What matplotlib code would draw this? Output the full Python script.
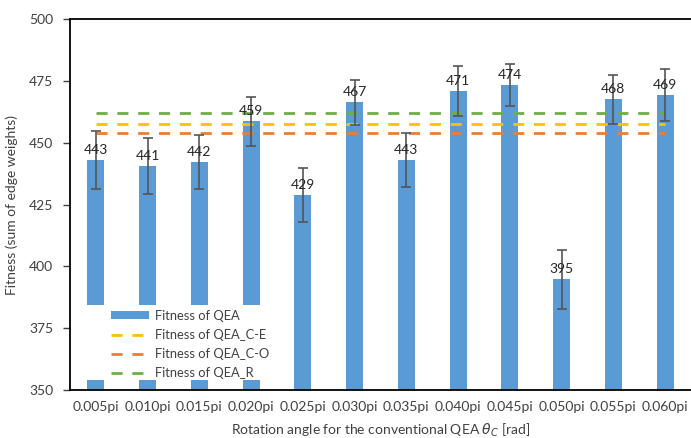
import numpy as np
import matplotlib
matplotlib.use('Agg')
import matplotlib.pyplot as plt
from matplotlib.patches import Rectangle

plt.rcParams['font.family'] = ['Lato', 'DejaVu Sans']

# Data
angles = ['0.005pi', '0.010pi', '0.015pi', '0.020pi', '0.025pi', '0.030pi',
          '0.035pi', '0.040pi', '0.045pi', '0.050pi', '0.055pi', '0.060pi']
fit_qea = [443.0, 440.6, 442.2, 458.6, 428.7, 466.3,
           443.0, 470.9, 473.4, 394.7, 467.5, 469.3]
fit_err = [11.8, 11.3, 11.0, 10.0, 10.9, 9.1,
           10.8, 10.3, 8.5, 12.0, 9.9, 10.5]
labels = ['443', '441', '442', '459', '429', '467',
          '443', '471', '474', '395', '468', '469']
fit_ce = 457.7
fit_co = 453.8
fit_r = 462.1

col_bar = '#5B9BD5'
col_ce = '#FFC000'
col_co = '#ED7D31'
col_r = '#70AD47'
txt_col = '#404040'

fig = plt.figure(figsize=(6.91, 4.38), dpi=100)
ax = fig.add_axes([0.1013, 0.1096, 0.8987, 0.847])

xx = np.arange(len(angles))
ax.bar(xx, fit_qea, width=0.33, color=col_bar, label='Fitness of QEA', zorder=2)
ax.errorbar(xx, fit_qea, yerr=fit_err, fmt='none', ecolor='#555555',
            elinewidth=1.2, capsize=3.5, capthick=1.2, zorder=4)

n = len(angles)
ax.plot(xx, [fit_ce]*n, '--', color=col_ce, lw=2, dashes=(4, 3.5),
        label='Fitness of QEA_C-E', zorder=3)
ax.plot(xx, [fit_co]*n, '--', color=col_co, lw=2, dashes=(4, 3.5),
        label='Fitness of QEA_C-O', zorder=3)
ax.plot(xx, [fit_r]*n, '--', color=col_r, lw=2, dashes=(4, 3.5),
        label='Fitness of QEA_R', zorder=3)

for x, v, s in zip(xx, fit_qea, labels):
    ax.annotate(s, (x, v), xytext=(0, 4), textcoords='offset pixels',
                ha='center', va='bottom', fontsize=10, color='#262626', zorder=5)

ax.set_xlim(-0.5, n - 0.5)
ax.set_ylim(350, 500)
ax.set_yticks(np.arange(350, 501, 25))
ax.set_xticks(xx)
ax.set_xticklabels(angles)
ax.tick_params(axis='x', length=0, pad=8, labelsize=10, colors=txt_col)
ax.tick_params(axis='y', length=5, width=1, direction='out', pad=7,
               labelsize=10, colors=txt_col)
for side in ['left', 'top', 'bottom']:
    ax.spines[side].set_color('black')
    ax.spines[side].set_linewidth(1.3)
ax.spines['right'].set_visible(False)

ax.set_ylabel('Fitness (sum of edge weights)', fontsize=10, color=txt_col,
              labelpad=8)
ax.set_xlabel(r'Rotation angle for the conventional QEA $\theta_C$ [rad]',
              fontsize=10, color=txt_col, labelpad=6)

# white legend area (Excel-style legend box)
ax.add_patch(Rectangle((0.013, 0.027), 0.31, 0.202, transform=ax.transAxes,
                       facecolor='white', edgecolor='none', zorder=5))

h, l = ax.get_legend_handles_labels()
order = [3, 0, 1, 2]
leg = ax.legend([h[i] for i in order], [l[i] for i in order],
                loc='upper left', bbox_to_anchor=(0.05, 0.243), fontsize=9.3,
                frameon=False, handlelength=3.0, handleheight=0.5,
                labelspacing=0.55, handletextpad=0.4, borderpad=0.25)
leg.set_zorder(6)
for t in leg.get_texts():
    t.set_color(txt_col)

fig.savefig('out.png', dpi=100)
